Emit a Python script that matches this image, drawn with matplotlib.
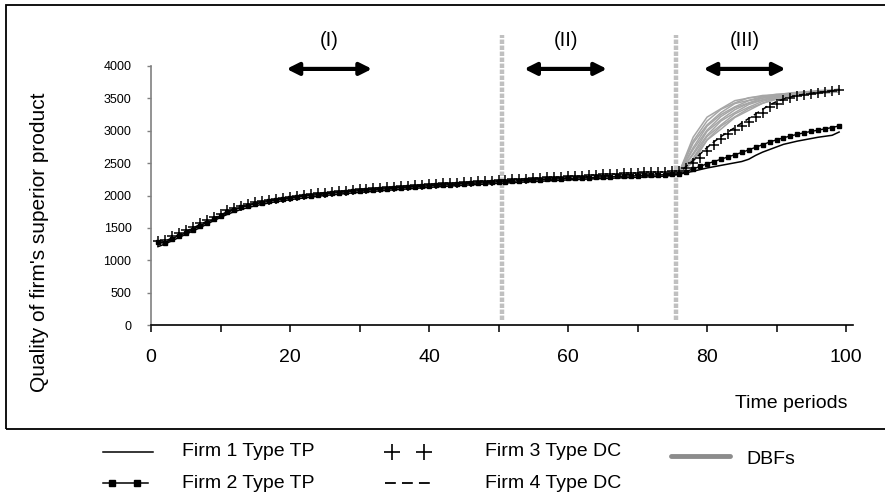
import matplotlib.pyplot as plt
from matplotlib.lines import Line2D
from matplotlib.patches import Rectangle

plt.rcParams['font.family'] = ['Liberation Sans', 'DejaVu Sans']

# ---- data ----
periods = list(range(1, 100))

firm1_tp = [
    1210, 1250, 1300, 1350, 1400, 1450, 1500, 1555, 1610, 1660,
    1710, 1750, 1785, 1815, 1840, 1865, 1885, 1905, 1920, 1935,
    1950, 1962, 1975, 1988, 2000, 2010, 2020, 2030, 2040, 2048,
    2056, 2064, 2072, 2080, 2088, 2095, 2102, 2110, 2118, 2125,
    2132, 2140, 2146, 2152, 2158, 2165, 2170, 2176, 2182, 2188,
    2193, 2198, 2204, 2210, 2215, 2220, 2225, 2230, 2236, 2240,
    2245, 2250, 2255, 2258, 2262, 2266, 2270, 2274, 2278, 2282,
    2285, 2290, 2295, 2300, 2310, 2330,
    2350, 2375, 2400, 2425, 2445, 2465, 2485, 2505, 2525, 2560,
    2620, 2670, 2710, 2750, 2790, 2815, 2840, 2860, 2880, 2900,
    2915, 2930, 2980,
]

firm2_tp = [
    1280, 1260, 1330, 1380, 1420, 1470, 1530, 1580, 1630, 1690,
    1740, 1780, 1815, 1845, 1870, 1890, 1910, 1930, 1945, 1960,
    1975, 1990, 2000, 2012, 2025, 2035, 2045, 2055, 2065, 2072,
    2080, 2088, 2096, 2104, 2112, 2120, 2126, 2133, 2140, 2148,
    2155, 2162, 2168, 2175, 2180, 2186, 2192, 2198, 2204, 2210,
    2215, 2220, 2226, 2232, 2238, 2243, 2248, 2253, 2258, 2263,
    2268, 2272, 2276, 2281, 2286, 2290, 2294, 2298, 2302, 2306,
    2310, 2314, 2318, 2322, 2326, 2330,
    2370, 2410, 2450, 2490, 2525, 2560, 2595, 2630, 2665, 2705,
    2745, 2785, 2825, 2860, 2890, 2920, 2945, 2970, 2990, 3010,
    3030, 3050, 3075,
]

firm3_dc = [
    1300, 1320, 1370, 1420, 1470, 1520, 1570, 1620, 1670, 1720,
    1770, 1810, 1840, 1870, 1895, 1915, 1935, 1950, 1965, 1980,
    1995, 2008, 2020, 2032, 2045, 2055, 2065, 2075, 2085, 2095,
    2103, 2111, 2119, 2127, 2135, 2143, 2150, 2157, 2164, 2172,
    2180, 2187, 2194, 2200, 2206, 2212, 2218, 2224, 2230, 2236,
    2242, 2248, 2254, 2260, 2266, 2272, 2278, 2284, 2290, 2296,
    2302, 2308, 2314, 2320, 2326, 2332, 2338, 2343, 2348, 2352,
    2356, 2360, 2364, 2368, 2372, 2376,
    2430, 2500, 2580, 2680, 2780, 2880, 2950, 3010, 3070, 3140,
    3210, 3280, 3360, 3420, 3470, 3510, 3530, 3550, 3565, 3580,
    3595, 3610, 3625,
]

firm4_dc = [
    1260, 1290, 1345, 1395, 1445, 1495, 1550, 1600, 1650, 1700,
    1750, 1795, 1825, 1855, 1880, 1900, 1920, 1940, 1955, 1970,
    1985, 1998, 2010, 2022, 2035, 2045, 2055, 2065, 2075, 2083,
    2091, 2099, 2107, 2115, 2123, 2131, 2138, 2145, 2152, 2160,
    2167, 2174, 2181, 2187, 2193, 2199, 2205, 2211, 2217, 2223,
    2229, 2235, 2241, 2247, 2253, 2258, 2263, 2268, 2273, 2278,
    2283, 2288, 2293, 2298, 2303, 2308, 2313, 2318, 2322, 2326,
    2330, 2334, 2338, 2342, 2346, 2350,
    2450, 2540, 2640, 2740, 2830, 2910, 2980, 3050, 3120, 3190,
    3260, 3330, 3400, 3450, 3490, 3520, 3545, 3565, 3580, 3595,
    3605, 3615, 3630,
]

# DBF entrants, observed from period 76 on
dbf_periods = [76, 78, 80, 82, 84, 86, 88, 90, 92, 94, 96, 98, 99]
dbf_runs = [
    [2360, 2900, 3210, 3340, 3465, 3505, 3545, 3555, 3585, 3600, 3620, 3630, 3645],
    [2360, 2840, 3150, 3330, 3430, 3510, 3530, 3565, 3570, 3600, 3605, 3625, 3635],
    [2355, 2810, 3090, 3280, 3420, 3470, 3525, 3545, 3575, 3585, 3610, 3615, 3630],
    [2355, 2740, 3070, 3250, 3370, 3465, 3505, 3550, 3560, 3590, 3595, 3620, 3625],
    [2350, 2710, 3010, 3220, 3355, 3430, 3505, 3535, 3565, 3575, 3600, 3605, 3620],
    [2350, 2650, 2990, 3170, 3325, 3425, 3480, 3535, 3550, 3580, 3585, 3610, 3615],
    [2350, 2630, 2930, 3150, 3280, 3405, 3475, 3515, 3555, 3565, 3595, 3600, 3610],
    [2345, 2575, 2910, 3090, 3260, 3365, 3455, 3510, 3540, 3570, 3580, 3605, 3610],
    [2345, 2560, 2860, 3070, 3215, 3345, 3425, 3505, 3545, 3555, 3585, 3590, 3605],
    [2345, 2515, 2855, 3025, 3205, 3315, 3425, 3485, 3530, 3565, 3575, 3595, 3600],
]

phase_bounds = [50.5, 75.6]
phase_labels = ["(I)", "(II)", "(III)"]
phase_spans = [(19.5, 31.8), (53.7, 65.6), (79.5, 91.3)]

# ---- figure ----
fig = plt.figure(figsize=(8.85, 4.93), dpi=100)
W, H = 885.0, 493.0
ax = fig.add_axes([151 / W, 1 - 325 / H, (853 - 151) / W, 259 / H])

for run in dbf_runs:
    ax.plot(dbf_periods, run, color="#a6a6a6", lw=1.1, zorder=2)

ax.plot(periods, firm1_tp, color="black", lw=1.1, zorder=3)
ax.plot(periods, firm2_tp, color="black", lw=1.0, marker="s", ms=2.6, zorder=3)
ax.plot(periods, firm3_dc, ls="none", color="black", marker="+", ms=7, mew=1.1, zorder=4)
ax.plot(periods, firm4_dc, color="black", lw=1.1, ls=(0, (4, 2.5)), zorder=3)

# phase boundaries
for xb in phase_bounds:
    ax.plot([xb, xb], [80, 4480], color="#c0c0c0", lw=3.2, ls=(0, (1.0, 0.35)),
            clip_on=False, zorder=1, solid_capstyle="butt", dash_capstyle="butt")

# phase arrows and labels
for (x0, x1), lab in zip(phase_spans, phase_labels):
    ax.annotate("", xy=(x1, 3955), xytext=(x0, 3955), annotation_clip=False,
                arrowprops=dict(arrowstyle="<|-|>", color="black", lw=3.0,
                                mutation_scale=18, shrinkA=0, shrinkB=0))
    ax.text((x0 + x1) / 2, 4400, lab, ha="center", va="center", fontsize=14.5)

ax.set_xlim(0, 101)
ax.set_ylim(0, 4000)
ax.set_xticks(range(0, 101, 20))
ax.set_xticks(range(10, 100, 20), minor=True)
ax.set_yticks(range(0, 4001, 500))
ax.tick_params(axis="x", which="both", direction="out", length=5, width=1.1,
               labelsize=14, pad=12)
ax.tick_params(axis="y", direction="out", length=3, width=1, color="#808080",
               labelsize=9, pad=11)

for side in ("top", "right"):
    ax.spines[side].set_visible(False)
ax.spines["left"].set_color("#808080")
ax.spines["left"].set_linewidth(1.2)
ax.spines["bottom"].set_linewidth(1.2)

fig.text(40 / W, 1 - 242 / H, "Quality of firm's superior product", rotation=90,
         ha="center", va="center", fontsize=15)
fig.text(791 / W, 1 - 404 / H, "Time periods", ha="center", va="center", fontsize=14)

# outer frame around the plot area
fig.patches.append(Rectangle((6 / W, 1 - 429 / H), 1.05, (429 - 5) / H, fill=False,
                             lw=1.3, ec="black", transform=fig.transFigure))

# ---- legend ----
def fx(px):
    return px / W

def fy(py):
    return 1 - py / H

rows = [452, 483]
fig.add_artist(Line2D([fx(103), fx(153)], [fy(rows[0])] * 2, color="black", lw=1.1))
fig.add_artist(Line2D([fx(103), fx(148)], [fy(rows[1])] * 2, color="black", lw=1.1))
fig.add_artist(Line2D([fx(112), fx(137)], [fy(rows[1])] * 2, ls="none", marker="s",
                      ms=4, color="black"))
fig.add_artist(Line2D([fx(392), fx(424)], [fy(rows[0])] * 2, ls="none", marker="+",
                      ms=11, mew=1.2, color="black"))
fig.add_artist(Line2D([fx(385), fx(431)], [fy(rows[1])] * 2, color="black", lw=1.3,
                      ls=(0, (6, 3.4))))
fig.add_artist(Line2D([fx(671), fx(730)], [fy(456)] * 2, color="#8c8c8c", lw=3.5,
                      solid_capstyle="round"))

legend_text = [("Firm 1 Type TP", 182, rows[0]), ("Firm 2 Type TP", 182, rows[1]),
               ("Firm 3 Type DC", 485, rows[0]), ("Firm 4 Type DC", 485, rows[1]),
               ("DBFs", 746, 459)]
for s, px, py in legend_text:
    fig.text(fx(px), fy(py), s, ha="left", va="center", fontsize=14)

fig.savefig("out.png", dpi=100)
